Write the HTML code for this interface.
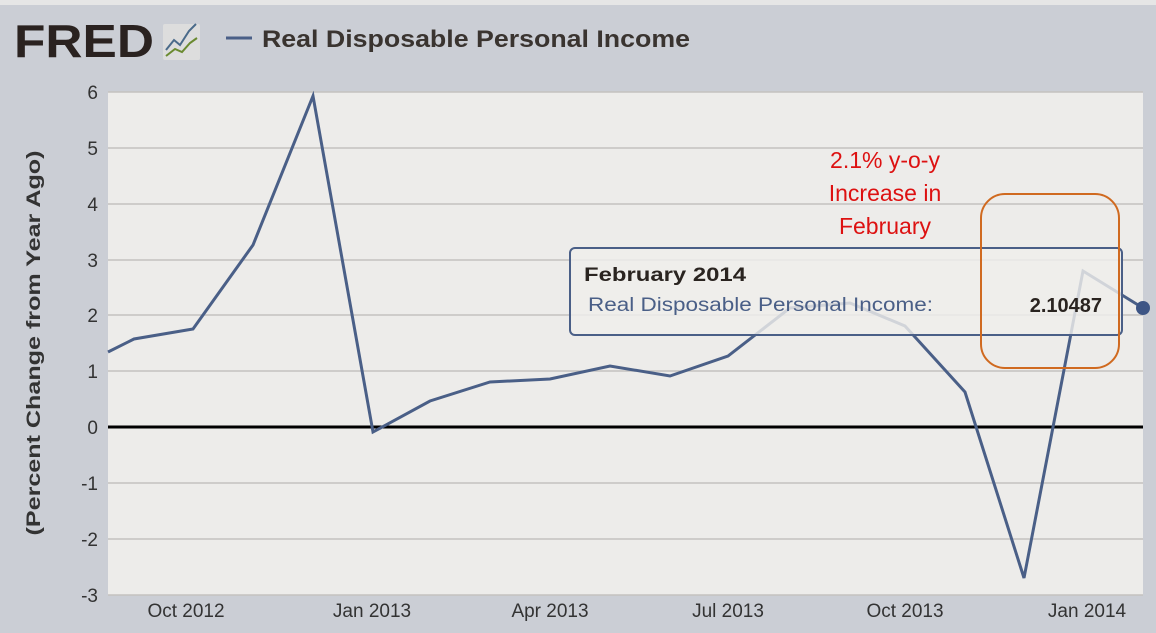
<!DOCTYPE html>
<html><head><style>
body{margin:0;width:1156px;height:628px;overflow:hidden;background:#cbced5;font-family:"Liberation Sans",sans-serif}
</style></head><body>
<svg width="1156" height="628" xmlns="http://www.w3.org/2000/svg">
<rect x="0" y="0" width="1156" height="5" fill="#e6e6e6"/>
<text x="14" y="57" font-size="46" font-weight="bold" fill="#2a2220" textLength="140" lengthAdjust="spacingAndGlyphs">FRED</text>
<rect x="163" y="24" width="37" height="36" fill="#ddd" rx="2"/>
<polyline points="166,50 174,40 180,45 189,31 196,24" fill="none" stroke="#4a6a8a" stroke-width="2"/>
<polyline points="166,56 175,49 182,52 190,43 197,38" fill="none" stroke="#6a8a30" stroke-width="2"/>
<line x1="226" y1="38" x2="252" y2="38" stroke="#4a5f87" stroke-width="3"/>
<text x="262" y="47" font-size="24" font-weight="bold" fill="#3a3430" textLength="428" lengthAdjust="spacingAndGlyphs">Real Disposable Personal Income</text>
<rect x="108" y="92" width="1035" height="503" fill="#edecea"/>
<g stroke="#c4c2bf" stroke-width="1.5">
<line x1="108" y1="92" x2="1143" y2="92"/><line x1="108" y1="148" x2="1143" y2="148"/><line x1="108" y1="204" x2="1143" y2="204"/><line x1="108" y1="260" x2="1143" y2="260"/><line x1="108" y1="315" x2="1143" y2="315"/><line x1="108" y1="371" x2="1143" y2="371"/><line x1="108" y1="483" x2="1143" y2="483"/><line x1="108" y1="539" x2="1143" y2="539"/><line x1="108" y1="595" x2="1143" y2="595"/>
</g>
<line x1="108" y1="427" x2="1143" y2="427" stroke="#000" stroke-width="3"/>
<g font-size="19" fill="#333" text-anchor="end">
<text x="98" y="99">6</text><text x="98" y="155">5</text><text x="98" y="211">4</text><text x="98" y="267">3</text><text x="98" y="322">2</text><text x="98" y="378">1</text><text x="98" y="434">0</text><text x="98" y="490">-1</text><text x="98" y="546">-2</text><text x="98" y="602">-3</text>
</g>
<text transform="translate(40,343) rotate(-90)" font-size="19" font-weight="bold" fill="#333" text-anchor="middle" textLength="385" lengthAdjust="spacingAndGlyphs">(Percent Change from Year Ago)</text>
<g font-size="19" fill="#333" text-anchor="middle">
<text x="186" y="617">Oct 2012</text><text x="372" y="617">Jan 2013</text><text x="550" y="617">Apr 2013</text><text x="728" y="617">Jul 2013</text><text x="905" y="617">Oct 2013</text><text x="1087" y="617">Jan 2014</text>
</g>
<polyline points="108,352 134,339 193,329 253,245 313,96 373,432 430,401 490,382 550,379 610,366 670,376 728,356 790,308 850,303 905,326 965,392 1024,578 1083,271 1143,308" fill="none" stroke="#4a5f87" stroke-width="3"/>
<circle cx="1143" cy="308" r="7" fill="#3d5585"/>
<rect x="570" y="248" width="552" height="87" rx="5" fill="#efeeec" fill-opacity="0.82" stroke="#4a5f87" stroke-width="2"/>
<text x="584" y="281" font-size="19" font-weight="bold" fill="#2a2420" textLength="162" lengthAdjust="spacingAndGlyphs">February 2014</text>
<text x="588" y="311" font-size="19" fill="#4a5f87" textLength="345" lengthAdjust="spacingAndGlyphs">Real Disposable Personal Income:</text>
<text x="1102" y="312" font-size="20" font-weight="bold" fill="#2a2420" text-anchor="end">2.10487</text>
<rect x="981" y="194" width="138" height="174" rx="24" fill="none" stroke="#d06a20" stroke-width="2"/>
<g font-size="23" fill="#dd1111" text-anchor="middle">
<text x="885" y="168">2.1% y-o-y</text><text x="885" y="201">Increase in</text><text x="885" y="234">February</text>
</g>
</svg>
</body></html>
